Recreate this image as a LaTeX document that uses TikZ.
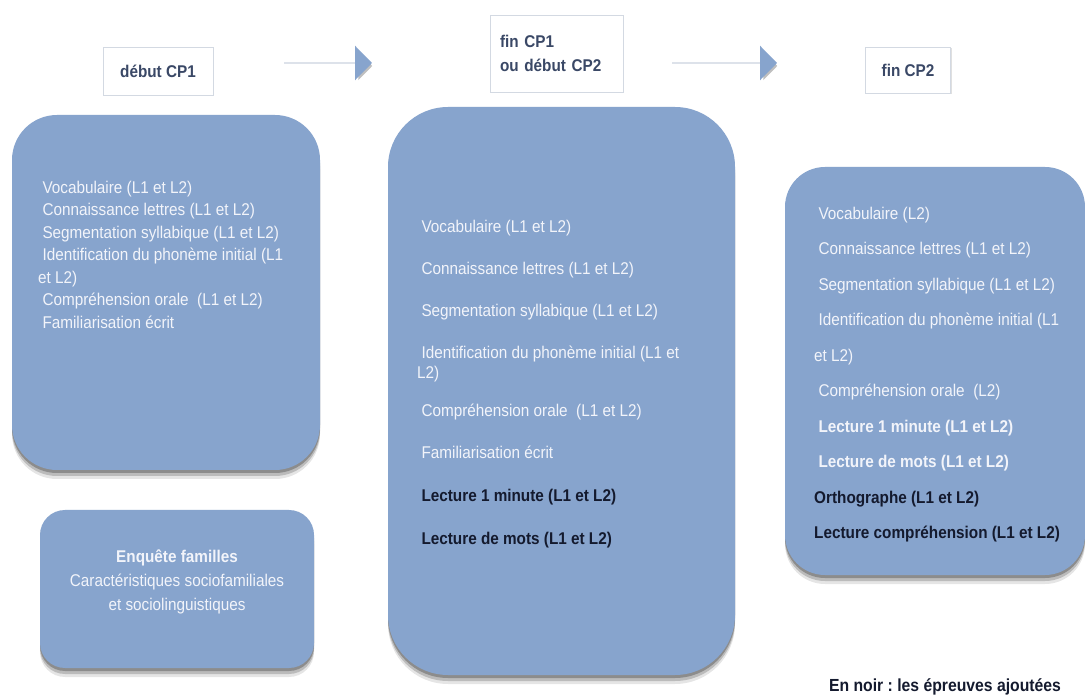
\documentclass[tikz,border=0pt]{standalone}
\usepackage{fontspec}
\setmainfont{Liberation Sans}[FakeStretch=0.9]
\usetikzlibrary{shadows,arrows.meta,calc}
\definecolor{boxblue}{HTML}{87A4CD}
\definecolor{lighttext}{HTML}{F2F4FA}
\definecolor{darktext}{HTML}{141A2E}
\definecolor{headtext}{HTML}{3A4866}
\definecolor{hborder}{HTML}{D3D9E2}
\definecolor{linegray}{HTML}{DDE2EA}
\tikzset{
  bluebox/.style={fill=boxblue, draw=none,
    drop shadow={shadow xshift=0pt, shadow yshift=-9pt, opacity=.10, fill=black},
    drop shadow={shadow xshift=0pt, shadow yshift=-6pt, opacity=.18, fill=black},
    drop shadow={shadow xshift=0pt, shadow yshift=-3pt, opacity=.25, fill=black}},
  headbox/.style={fill=white, draw=hborder, line width=0.8pt,
    drop shadow={shadow xshift=1pt, shadow yshift=-1.5pt, opacity=.12, fill=black},
    font=\fontsize{17}{24}\selectfont\bfseries, text=headtext},
  body/.style={inner sep=0pt, anchor=north west, align=left, text=lighttext},
  flowline/.style={draw=linegray, line width=2.5pt,
    -{Triangle[length=17pt,width=34pt,color=boxblue]}},
  flowshadow/.style={draw opacity=0, fill opacity=.45, line width=2.5pt,
    -{Triangle[length=17pt,width=34pt,fill=black!55]}},
}
\newcommand{\ind}{\hspace*{4.3pt}}
\newcommand{\blk}[1]{\textcolor{darktext}{\textbf{#1}}}
\begin{document}
\frenchspacing
\begin{tikzpicture}[x=1pt,y=-1pt]
\useasboundingbox (0,0) rectangle (1085,700);
\fill[white] (0,0) rectangle (1085,700);

% header boxes
\node[headbox, minimum width=110pt, minimum height=48pt] (h1) at (158,71) {début CP1};
\node[headbox, text width=113pt, inner xsep=10pt, align=left, minimum height=77pt] (h2) at (556.5,53.5) {fin CP1\\ou début CP2};
\node[headbox, minimum width=85pt, minimum height=46pt] (h3) at (908,70) {fin CP2};

% arrows
\coordinate (a1s) at (284,63);
\coordinate (a1e) at (372,63);
\coordinate (a2s) at (672,63);
\coordinate (a2e) at (777,63);
\draw[flowshadow] ([shift={(2pt,-3pt)}]a1s) -- ([shift={(2pt,-3pt)}]a1e);
\draw[flowshadow] ([shift={(2pt,-3pt)}]a2s) -- ([shift={(2pt,-3pt)}]a2e);
\draw[flowline] (a1s) -- (a1e);
\draw[flowline] (a2s) -- (a2e);

% big boxes
\node[bluebox, minimum width=308pt, minimum height=355pt, rounded corners=45pt] (b1) at (166,292.5) {};
\node[bluebox, minimum width=274pt, minimum height=158pt, rounded corners=25pt] (b2) at (177,589) {};
\node[bluebox, minimum width=347pt, minimum height=568pt, rounded corners=60pt] (b3) at (561.5,391) {};
\node[bluebox, minimum width=300pt, minimum height=408pt, rounded corners=40pt] (b4) at (935,371) {};

% texts
\node[body, font=\fontsize{17}{22.5}\selectfont] (t1) at (38,180.5) {%
\ind Vocabulaire (L1 et L2)\\
\ind Connaissance lettres (L1 et L2)\\
\ind Segmentation syllabique (L1 et L2)\\
\ind Identification du phonème initial (L1\\
et L2)\\
\ind Compréhension orale \ (L1 et L2)\\
\ind Familiarisation écrit};

\node[inner sep=0pt, align=center, text=lighttext, font=\fontsize{17}{24}\selectfont] (t2) at (177,582) {%
\textbf{Enquête familles}\\
Caractéristiques sociofamiliales\\
et sociolinguistiques};

\node[body, font=\fontsize{17}{20}\selectfont] (t3) at (417,219.5) {%
\ind Vocabulaire (L1 et L2)\\[22pt]
\ind Connaissance lettres (L1 et L2)\\[22pt]
\ind Segmentation syllabique (L1 et L2)\\[22pt]
\ind Identification du phonème initial (L1 et\\
L2)\\[18pt]
\ind Compréhension orale \ (L1 et L2)\\[22pt]
\ind Familiarisation écrit\\[23pt]
\ind\blk{Lecture 1 minute (L1 et L2)}\\[23pt]
\ind\blk{Lecture de mots (L1 et L2)}};

\node[body, font=\fontsize{17}{35.5}\selectfont] (t4) at (814,206.5) {%
\ind Vocabulaire (L2)\\
\ind Connaissance lettres (L1 et L2)\\
\ind Segmentation syllabique (L1 et L2)\\
\ind Identification du phonème initial (L1\\
et L2)\\
\ind Compréhension orale \ (L2)\\
\ind\textbf{Lecture 1 minute (L1 et L2)}\\
\ind\textbf{Lecture de mots (L1 et L2)}\\
\blk{Orthographe (L1 et L2)}\\
\blk{Lecture compréhension (L1 et L2)}};

\node[inner sep=0pt, text=darktext, font=\fontsize{17.5}{20}\selectfont\bfseries] (note) at (945,687) {En noir : les épreuves ajoutées};
\end{tikzpicture}
\end{document}
